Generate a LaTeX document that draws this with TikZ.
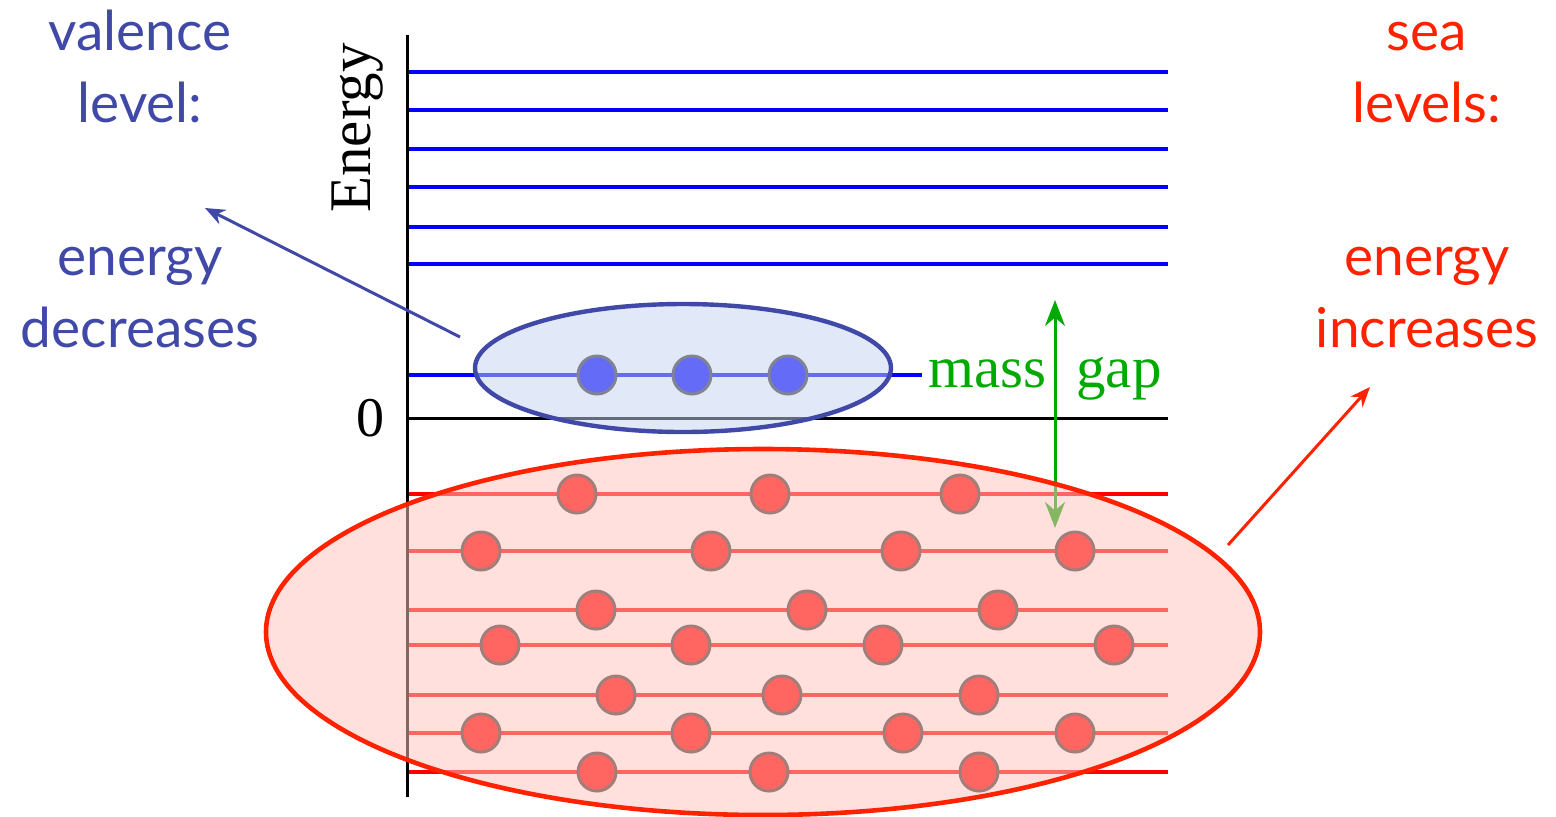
\documentclass[tikz,border=0pt]{standalone}
\usepackage{fontspec}
\setmainfont{Liberation Serif}
\newfontfamily\labelfont{Lato}
\usetikzlibrary{arrows.meta,shapes.geometric}
\definecolor{vblue}{RGB}{64,72,168}
\definecolor{sred}{RGB}{255,34,0}
\definecolor{lblue}{RGB}{0,0,255}
\definecolor{lred}{RGB}{255,0,0}
\definecolor{mgreen}{RGB}{0,170,0}
\definecolor{bfill}{RGB}{196,210,240}
\definecolor{rfill}{RGB}{255,196,188}
\definecolor{dotrim}{RGB}{60,50,50}
\tikzset{
  lab/.style={font=\labelfont\fontsize{27.5}{30}\selectfont, anchor=base},
  bluelev/.style={draw=lblue, line width=2pt},
  redlev/.style={draw=lred, line width=2pt},
  reddot/.style={circle, fill=lred, draw=dotrim, line width=1.5pt, minimum size=19pt, inner sep=0pt},
  bluedot/.style={circle, fill=lblue, draw=dotrim, line width=1.5pt, minimum size=19pt, inner sep=0pt},
  pointer/.style={line width=1.5pt, -{Stealth[length=10pt,width=8pt]}},
}
\begin{document}
\begin{tikzpicture}[x=0.5pt,y=-0.5pt]
\useasboundingbox (0,0) rectangle (1556,816);
% levels
\foreach \yy [count=\i] in {72,110,149,187,227,264}{
  \coordinate (bl\i) at (407,\yy); \coordinate (br\i) at (1168,\yy);
  \draw[bluelev] (bl\i) -- (br\i);
}
\coordinate (vl) at (407,375); \coordinate (vr) at (922,375);
\draw[bluelev] (vl) -- (vr);
\coordinate (zl) at (407,418); \coordinate (zr) at (1168,418);
\draw[black, line width=1.5pt] (zl) -- (zr);
\foreach \yy [count=\i] in {494,551,610,645,695,733,772}{
  \coordinate (rl\i) at (407,\yy); \coordinate (rr\i) at (1168,\yy);
  \draw[redlev] (rl\i) -- (rr\i);
}
% axis
\coordinate (axt) at (407,35); \coordinate (axb) at (407,797);
\draw[black, line width=1.5pt] (axt) -- (axb);
\node[font=\fontsize{29.5}{30}\selectfont, rotate=90, anchor=base west, inner sep=0pt] (en) at (370,213) {Energy};
\node[font=\fontsize{28}{30}\selectfont, anchor=base, inner sep=0pt] (zero) at (370,436) {0};
% mass gap
\coordinate (gt) at (1055,300); \coordinate (gb) at (1055,528);
\draw[mgreen, line width=1.5pt, {Stealth[length=13pt,width=10pt]}-{Stealth[length=13pt,width=10pt]}] (gt) -- (gb);
\node[mgreen, font=\fontsize{29.5}{30}\selectfont, anchor=base west, inner sep=0pt] (mass) at (928,387) {mass};
\node[mgreen, font=\fontsize{29.5}{30}\selectfont, anchor=base west, inner sep=0pt] (gap) at (1076,387) {gap};
% dots
\foreach \xx [count=\i] in {597,692,788}{ \node[bluedot] (b\i) at (\xx,375) {}; }
\foreach \xx/\yy [count=\i] in {577/494,770/494,960/494,
  481/551,711/551,901/551,1075/551,
  596/610,807/610,998/610,
  500/645,691/645,883/645,1114/645,
  616/695,782/695,979/695,
  481/733,691/733,903/733,1075/733,
  597/772,769/772,979/772}{ \node[reddot] (r\i) at (\xx,\yy) {}; }
% ellipses
\node[ellipse, draw=vblue, line width=2.2pt, fill=bfill, fill opacity=0.51, minimum width=208pt, minimum height=64pt, inner sep=0pt] (vel) at (683,368) {};
\node[ellipse, draw=sred, line width=2.3pt, fill=rfill, fill opacity=0.52, minimum width=497pt, minimum height=183pt, inner sep=0pt] (sel) at (763,632) {};
% labels
\node[lab, text=vblue] (t1) at (140,50) {valence};
\node[lab, text=vblue] (t2) at (140,122) {level:};
\node[lab, text=vblue] (t3) at (140,275) {energy};
\node[lab, text=vblue] (t4) at (140,347) {decreases};
\node[lab, text=sred] (u1) at (1427,50) {sea};
\node[lab, text=sred] (u2) at (1427,122) {levels:};
\node[lab, text=sred] (u3) at (1427,275) {energy};
\node[lab, text=sred] (u4) at (1427,347) {increases};
% pointers
\coordinate (pa) at (460,337); \coordinate (pb) at (205,208);
\draw[pointer, vblue] (pa) -- (pb);
\coordinate (qa) at (1228,545); \coordinate (qb) at (1370,387);
\draw[pointer, sred] (qa) -- (qb);
\end{tikzpicture}
\end{document}
